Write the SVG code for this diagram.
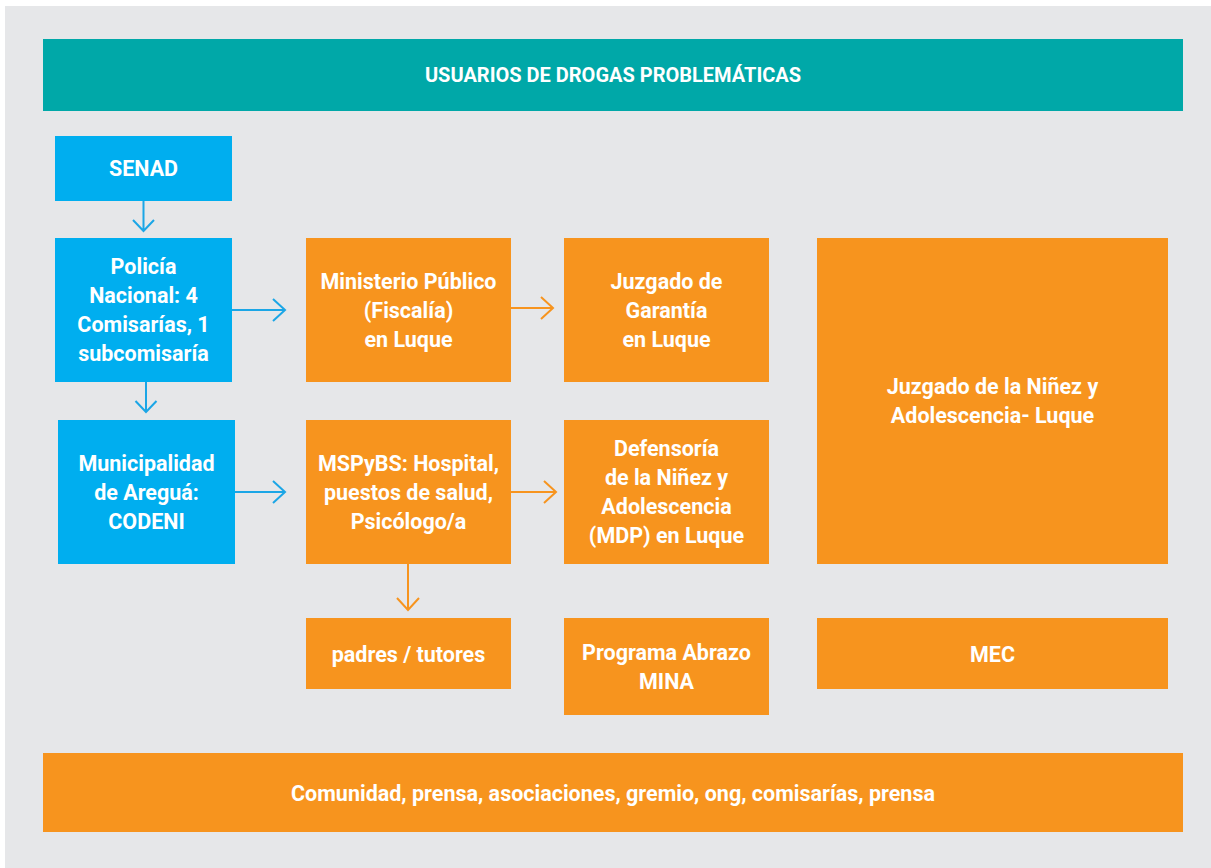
<svg xmlns="http://www.w3.org/2000/svg" width="1211" height="868" viewBox="0 0 1211 868">
<defs>
<style>
.bg{fill:#e6e7e9}
.teal{fill:#00a8a8}
.blue{fill:#00aeef}
.orange{fill:#f7941e}
text{font-family:Roboto,"Liberation Sans",sans-serif;font-weight:700;fill:#ffffff;text-anchor:middle;dominant-baseline:central;font-size:21.5px}
.title{font-size:20px}
.cb{stroke:#1ba6e6;stroke-width:2;fill:none}
.co{stroke:#f7941e;stroke-width:2;fill:none}
</style>
</defs>
<rect x="0" y="0" width="1211" height="868" fill="#ffffff"/>
<rect class="bg" x="5" y="6" width="1206" height="862"/>

<g id="title">
<rect class="teal" x="43" y="39" width="1140" height="72"/>
<text class="title" x="613" y="75">USUARIOS DE DROGAS PROBLEMÁTICAS</text>
</g>

<g id="senad">
<rect class="blue" x="55" y="136" width="177" height="65"/>
<text x="143.5" y="168.5">SENAD</text>
</g>

<g id="policia">
<rect class="blue" x="55" y="238" width="177" height="144"/>
<text x="143.5" y="266.5">Policía</text>
<text x="143.5" y="295.5">Nacional: 4</text>
<text x="143.5" y="324.5">Comisarías, 1</text>
<text x="143.5" y="353.5">subcomisaría</text>
</g>

<g id="municipalidad">
<rect class="blue" x="58" y="420" width="177" height="144"/>
<text x="146.5" y="463">Municipalidad</text>
<text x="146.5" y="492">de Areguá:</text>
<text x="146.5" y="521">CODENI</text>
</g>

<g id="ministerio">
<rect class="orange" x="306" y="238" width="205" height="144"/>
<text x="408.5" y="281">Ministerio Público</text>
<text x="408.5" y="310">(Fiscalía)</text>
<text x="408.5" y="339">en Luque</text>
</g>

<g id="juzgado-garantia">
<rect class="orange" x="564" y="238" width="205" height="144"/>
<text x="666.5" y="281">Juzgado de</text>
<text x="666.5" y="310">Garantía</text>
<text x="666.5" y="339">en Luque</text>
</g>

<g id="juzgado-ninez">
<rect class="orange" x="817" y="238" width="351" height="326"/>
<text x="992.5" y="386.5">Juzgado de la Niñez y</text>
<text x="992.5" y="415.5">Adolescencia- Luque</text>
</g>

<g id="mspybs">
<rect class="orange" x="306" y="420" width="205" height="144"/>
<text x="408.5" y="463">MSPyBS: Hospital,</text>
<text x="408.5" y="492">puestos de salud,</text>
<text x="408.5" y="521">Psicólogo/a</text>
</g>

<g id="defensoria">
<rect class="orange" x="564" y="420" width="205" height="144"/>
<text x="666.5" y="448">Defensoría</text>
<text x="666.5" y="477">de la Niñez y</text>
<text x="666.5" y="506">Adolescencia</text>
<text x="666.5" y="535">(MDP) en Luque</text>
</g>

<g id="padres">
<rect class="orange" x="306" y="618" width="205" height="71"/>
<text x="408.5" y="654">padres / tutores</text>
</g>

<g id="programa">
<rect class="orange" x="564" y="618" width="205" height="97"/>
<text x="666.5" y="652">Programa Abrazo</text>
<text x="666.5" y="681">MINA</text>
</g>

<g id="mec">
<rect class="orange" x="817" y="618" width="351" height="71"/>
<text x="992.5" y="654">MEC</text>
</g>

<g id="comunidad">
<rect class="orange" x="43" y="753" width="1140" height="79"/>
<text x="613" y="793">Comunidad, prensa, asociaciones, gremio, ong, comisarías, prensa</text>
</g>

<g id="connectors">
<path class="cb" d="M143.5 201 V231 M133 220 L143.5 231 L154 220"/>
<path class="cb" d="M146 382 V412 M135.5 401 L146 412 L156.5 401"/>
<path class="cb" d="M232 310 H285 M273 299 L285 310 L273 321"/>
<path class="cb" d="M235 492 H285 M273 481 L285 492 L273 503"/>
<path class="co" d="M511 308 H553 M541 297 L553 308 L541 319"/>
<path class="co" d="M511 492 H556 M544 481 L556 492 L544 503"/>
<path class="co" d="M408 564 V610 M397 598 L408 610 L419 598"/>
</g>
</svg>
